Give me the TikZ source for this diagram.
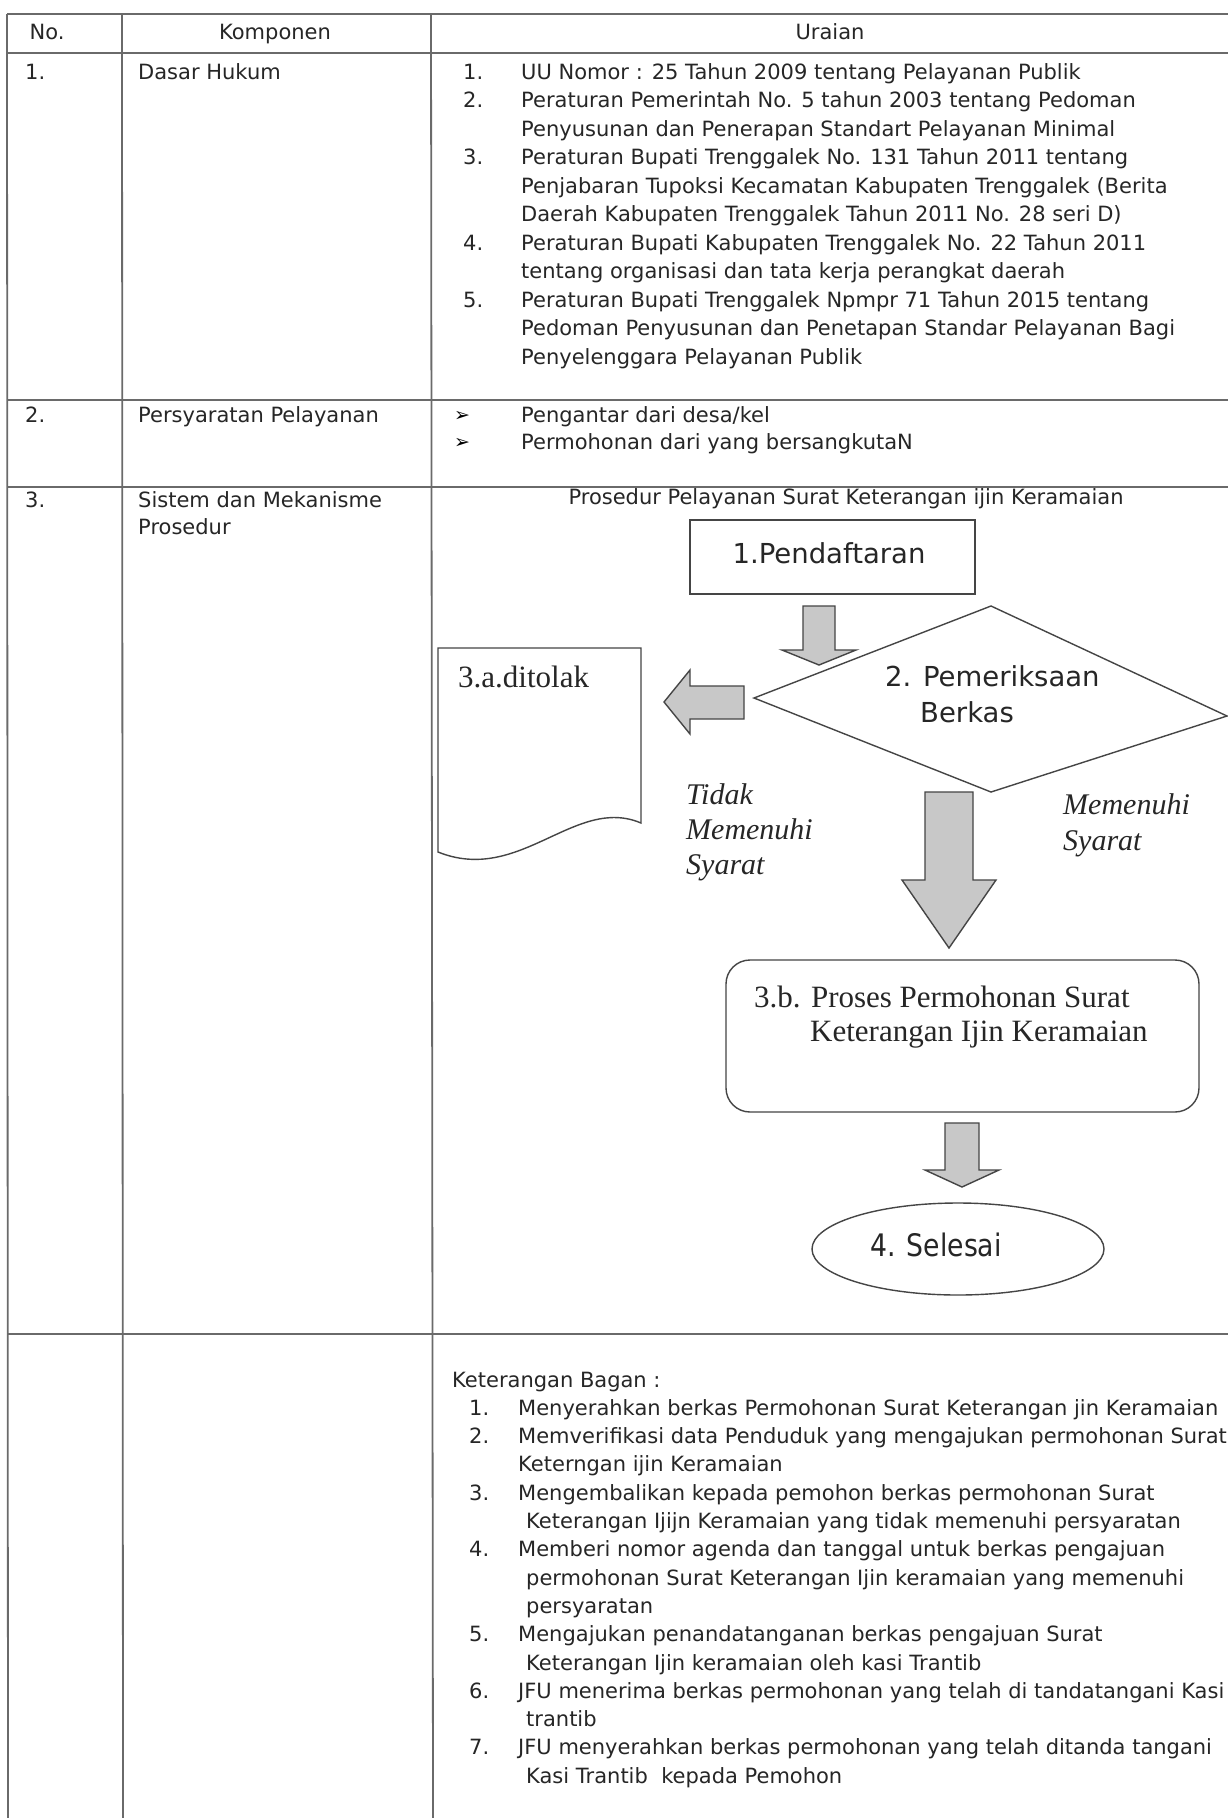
\documentclass[tikz,border=0pt]{standalone}
\usepackage{fontspec}
\setmainfont{DejaVu Sans}
\newfontfamily\serifface{Liberation Serif}
\usetikzlibrary{shapes.geometric}
\definecolor{ink}{HTML}{262626}
\definecolor{rulegray}{HTML}{6A6A6A}
\definecolor{shapegray}{HTML}{454545}
\definecolor{arrowfill}{HTML}{C8C8C8}

% block arrow pointing down: x, top, head start, tip, half shaft, half head
\newcommand\blockdown[6]{%
  \draw[blk] (#1-#5,#2) -- (#1+#5,#2) -- (#1+#5,#3) -- (#1+#6,#3) -- (#1,#4)
    -- (#1-#6,#3) -- (#1-#5,#3) -- cycle;}

\begin{document}
\begin{tikzpicture}[x=1pt,y=-1pt,
  tb/.style={anchor=base west, inner sep=0, text=ink, font=\fontsize{21}{25}\selectfont},
  tbc/.style={tb, anchor=base},
  bul/.style={anchor=base west, inner sep=0, text=black, font=\fontsize{19}{22}\selectfont},
  tablerule/.style={draw=rulegray, line width=1.8pt},
  shapeline/.style={draw=shapegray, line width=1.4pt},
  blk/.style={shapeline, fill=arrowfill},
  fsans/.style={inner sep=0, text=ink, font=\fontsize{27.5}{32}\selectfont},
  fserif/.style={inner sep=0, anchor=base west, text=ink, font=\serifface\fontsize{31}{36}\selectfont},
  fital/.style={inner sep=0, anchor=base west, text=ink, font=\serifface\itshape\fontsize{30}{34}\selectfont},
]
\useasboundingbox (0,0) rectangle (1228,1818);
\fill[white] (0,0) rectangle (1228,1818);

% ---------- table rules ----------
\draw[tablerule] (7,14) -- (1240,14);
\draw[tablerule] (7,53) -- (1240,53);
\draw[tablerule] (7,400) -- (1240,400);
\draw[tablerule] (7,487) -- (1240,487);
\draw[tablerule] (7,1334) -- (1240,1334);
\draw[tablerule] (7,14) -- (8,1818);
\draw[tablerule] (122,14) -- (123,1818);
\draw[tablerule] (431,14) -- (433,1818);

% ---------- header ----------
\node[tbc] (hno) at (47,39) {No.};
\node[tbc] (hkomp) at (275,39) {Komponen};
\node[tbc] (hur) at (830,39) {Uraian};

% ---------- row 1 ----------
\node[tb] (n1) at (25,79) {1.};
\node[tb] (k1) at (138,79) {Dasar Hukum};
\node[tb] (a1n) at (463,79) {1.};
\node[tb] (a1) at (521,79) {UU Nomor : 25 Tahun 2009 tentang Pelayanan Publik};
\node[tb] (a2n) at (463,107.5) {2.};
\node[tb] (a2) at (521,107.5) {Peraturan Pemerintah No. 5 tahun 2003 tentang Pedoman};
\node[tb] (a2b) at (521,136) {Penyusunan dan Penerapan Standart Pelayanan Minimal};
\node[tb] (a3n) at (463,164.5) {3.};
\node[tb] (a3) at (521,164.5) {Peraturan Bupati Trenggalek No. 131 Tahun 2011 tentang};
\node[tb] (a3b) at (521,193) {Penjabaran Tupoksi Kecamatan Kabupaten Trenggalek (Berita};
\node[tb] (a3c) at (521,221.5) {Daerah Kabupaten Trenggalek Tahun 2011 No. 28 seri D)};
\node[tb] (a4n) at (463,250) {4.};
\node[tb] (a4) at (521,250) {Peraturan Bupati Kabupaten Trenggalek No. 22 Tahun 2011};
\node[tb] (a4b) at (521,278.5) {tentang organisasi dan tata kerja perangkat daerah};
\node[tb] (a5n) at (463,307) {5.};
\node[tb] (a5) at (521,307) {Peraturan Bupati Trenggalek Npmpr 71 Tahun 2015 tentang};
\node[tb] (a5b) at (521,335.5) {Pedoman Penyusunan dan Penetapan Standar Pelayanan Bagi};
\node[tb] (a5c) at (521,364) {Penyelenggara Pelayanan Publik};

% ---------- row 2 ----------
\node[tb] (n2) at (25,422) {2.};
\node[tb] (k2) at (138,422) {Persyaratan Pelayanan};
\node[bul] (b1) at (454,421) {➢};
\node[tb] (s1) at (521,422) {Pengantar dari desa/kel};
\node[bul] (b2) at (454,448) {➢};
\node[tb] (s2) at (521,449) {Permohonan dari yang bersangkutaN};

% ---------- row 3 ----------
\node[tb] (n3) at (25,507) {3.};
\node[tb] (k3) at (138,507) {Sistem dan Mekanisme};
\node[tb] (k3b) at (138,534) {Prosedur};
\node[tbc] (ftitle) at (846,504) {Prosedur Pelayanan Surat Keterangan ijin Keramaian};

% flowchart
\node[draw=shapegray, line width=1.4pt, minimum width=285pt, minimum height=74pt, inner sep=0]
  (daftar) at (832.5,557) {};
\node[fsans] (daftart) at (829,553) {1.Pendaftaran};

\blockdown{819}{606}{650}{665}{16}{37}

\draw[shapeline] (754,698) -- (991,606) -- (1227,716) -- (991,792) -- cycle;
\node[fsans, anchor=base west] (periksa) at (885,686) {2. Pemeriksaan};
\node[fsans, anchor=base west] (berkas) at (920,722) {Berkas};

% left arrow to the rejected document
\draw[blk] (744,686) -- (744,719) -- (690,719) -- (690,734) -- (664,702)
  -- (690,670) -- (690,686) -- cycle;

\draw[shapeline, fill=white] (438,648) -- (641,648) -- (641,823)
  .. controls (575,795) and (520,885) .. (438,852) -- cycle;
\node[fserif] (tolak) at (458,687) {3.a.ditolak};

\node[fital] (tdk1) at (686,804) {Tidak};
\node[fital] (tdk2) at (686,839) {Memenuhi};
\node[fital] (tdk3) at (686,874) {Syarat};
\node[fital] (mem1) at (1063,814) {Memenuhi};
\node[fital] (mem2) at (1063,850) {Syarat};

\blockdown{949}{792}{880}{948}{24}{47}

\node[draw=shapegray, line width=1.4pt, rounded corners=24pt, minimum width=473pt,
  minimum height=152pt, inner sep=0] (proses) at (962.5,1036) {};
\node[fserif] (proses1) at (754,1007) {3.b. Proses Permohonan Surat};
\node[fserif] (proses2) at (810,1041) {Keterangan Ijin Keramaian};

\blockdown{962}{1123}{1170}{1187}{17}{37}

\node[ellipse, draw=shapegray, line width=1.4pt, minimum width=292pt, minimum height=92pt,
  inner sep=0] (selesai) at (958,1249) {};
\node[inner sep=0, text=ink, font=\fontsize{31}{36}\selectfont] (selesait) at (936,1245)
  {\scalebox{0.86}[1]{4. Selesai}};

% ---------- row 4 ----------
\node[tb] (ket) at (452,1387) {Keterangan Bagan :};
\node[tb] (c1n) at (469,1415.3) {1.};
\node[tb] (c1) at (518,1415.3) {Menyerahkan berkas Permohonan Surat Keterangan jin Keramaian};
\node[tb] (c2n) at (469,1443.6) {2.};
\node[tb] (c2) at (518,1443.6) {Memverifikasi data Penduduk yang mengajukan permohonan Surat};
\node[tb] (c2b) at (518,1471.9) {Keterngan ijin Keramaian};
\node[tb] (c3n) at (469,1500.2) {3.};
\node[tb] (c3) at (518,1500.2) {Mengembalikan kepada pemohon berkas permohonan Surat};
\node[tb] (c3b) at (526,1528.5) {Keterangan Ijijn Keramaian yang tidak memenuhi persyaratan};
\node[tb] (c4n) at (469,1556.8) {4.};
\node[tb] (c4) at (518,1556.8) {Memberi nomor agenda dan tanggal untuk berkas pengajuan};
\node[tb] (c4b) at (526,1585.1) {permohonan Surat Keterangan Ijin keramaian yang memenuhi};
\node[tb] (c4c) at (526,1613.4) {persyaratan};
\node[tb] (c5n) at (469,1641.7) {5.};
\node[tb] (c5) at (518,1641.7) {Mengajukan penandatanganan berkas pengajuan Surat};
\node[tb] (c5b) at (526,1670) {Keterangan Ijin keramaian oleh kasi Trantib};
\node[tb] (c6n) at (469,1698.3) {6.};
\node[tb] (c6) at (518,1698.3) {JFU menerima berkas permohonan yang telah di tandatangani Kasi};
\node[tb] (c6b) at (526,1726.6) {trantib};
\node[tb] (c7n) at (469,1754.9) {7.};
\node[tb] (c7) at (518,1754.9) {JFU menyerahkan berkas permohonan yang telah ditanda tangani};
\node[tb] (c7b) at (526,1783.2) {Kasi Trantib\ \ kepada Pemohon};
\end{tikzpicture}
\end{document}
